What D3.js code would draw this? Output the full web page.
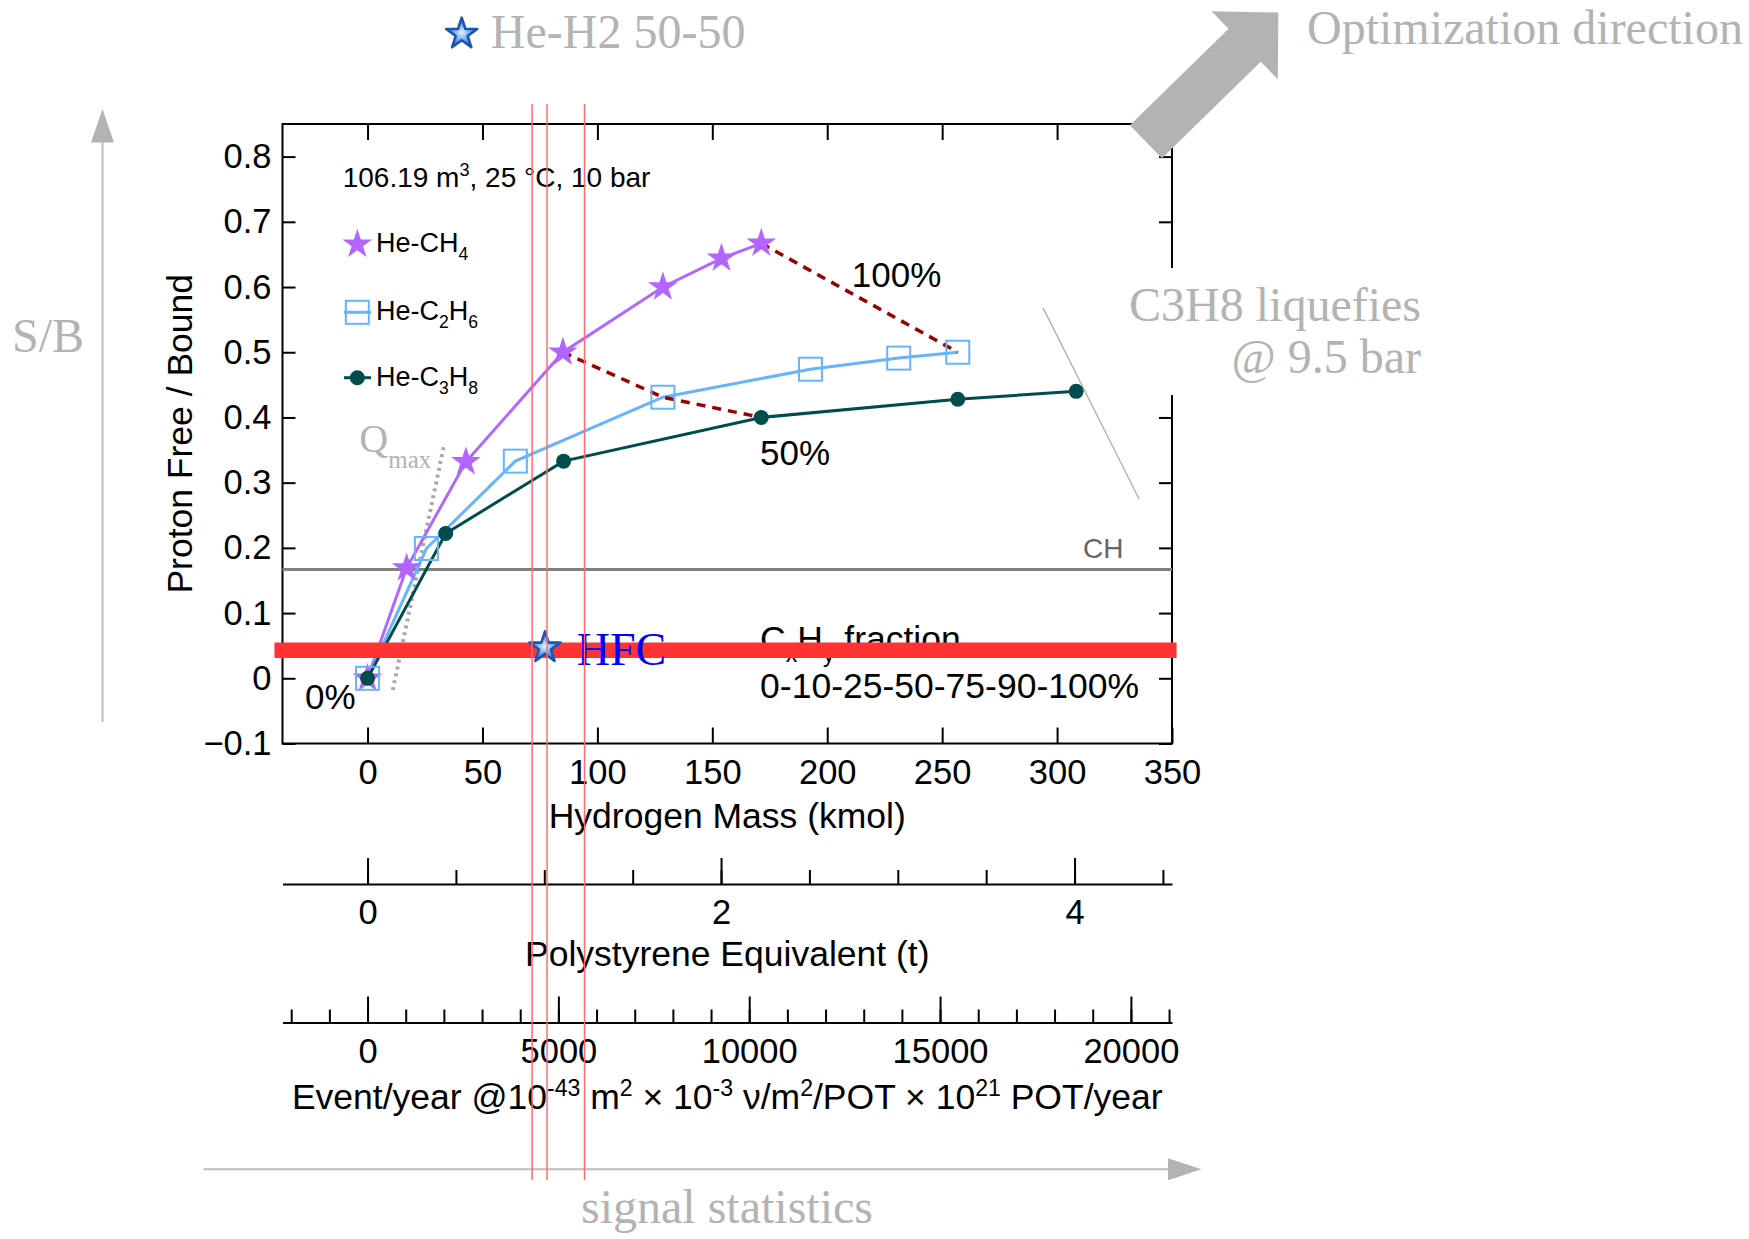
<!DOCTYPE html>
<html>
<head>
<meta charset="utf-8">
<script src="https://cdn.jsdelivr.net/npm/d3@7"></script>
<style>
  body { margin: 0; background: #fff; }
  svg { display: block; }
  text { font-family: "Liberation Sans", Arial, Helvetica, sans-serif; }
  .serif { font-family: "Liberation Serif", "Times New Roman", serif; }
</style>
</head>
<body>
<svg id="chart" width="1749" height="1239"></svg>
<script>
// C_xH_y fraction of each point
const fractions = ["0%", "10%", "25%", "50%", "75%", "90%", "100%"];

// He-CH4
const ch4Mass  = [0, 17.0, 42.8, 85.0, 128.5, 154.0, 171.3];
const ch4Ratio = [0, 0.169, 0.332, 0.500, 0.600, 0.644, 0.667];
// He-C2H6
const c2h6Mass  = [0, 25.6, 64.3, 128.5, 192.7, 231.1, 256.8];
const c2h6Ratio = [0, 0.199, 0.333, 0.431, 0.474, 0.491, 0.500];
// He-C3H8 (no 100% point, it liquefies)
const c3h8Mass  = [0, 34.0, 85.3, 171.3, 256.8, 308.3];
const c3h8Ratio = [0, 0.222, 0.333, 0.400, 0.428, 0.440];

// reference levels
const chRatio = 0.1667;          // CH (plastic scintillator)
const hfcMass = 77.2, hfcRatio = 0.047;
const hfcBandRatio = 0.043, hfcBandMass = [-40.5, 352];
const redLineMass = [71.6, 78.1, 94.4];
const qmaxMass = [11.0, 33.3], qmaxRatio = [-0.018, 0.358];
const liquefyMass = [293.9, 335.7], liquefyRatio = [0.568, 0.275];

// axes
const massTicks = [0, 50, 100, 150, 200, 250, 300, 350];
const ratioTicks = [-0.1, 0, 0.1, 0.2, 0.3, 0.4, 0.5, 0.6, 0.7, 0.8];
const psMajor = [0, 2, 4];
const psMinor = [0, 0.5, 1, 1.5, 2, 2.5, 3, 3.5, 4, 4.5];
const evMajor = [0, 5000, 10000, 15000, 20000];
const evMinor = d3.range(-2000, 21001, 1000);
const kmolPerTon = 76.9;      // H kmol in 1 t polystyrene
const eventsPerKmol = 60.22;  // 6.022e26 * 1e-43 * 1e-3 * 1e21

const purple = "#b366ff", blue = "#66b3ff", teal = "#004d4d", darkRed = "#990000";
const grayTxt = "#b3b3b3";

const svg = d3.select("#chart");
const plot = { left: 282.5, right: 1172, top: 124, bottom: 743.5 };

const x = d3.scaleLinear().domain([-37, 350]).range([plot.left, plot.right]);
const y = d3.scaleLinear().domain([-0.1, 0.85]).range([plot.bottom, plot.top]);
const ps = d3.scaleLinear().domain(x.domain().map(m => m / kmolPerTon)).range(x.range());
const ev = d3.scaleLinear().domain(x.domain().map(m => m * eventsPerKmol)).range(x.range());

// superscript / subscript helper
function rich(sel, parts, size) {
  let cur = 0;
  parts.forEach(([t, k]) => {
    const off = k === "sup" ? -0.38 * size : k === "sub" ? 0.3 * size : 0;
    sel.append("tspan")
      .attr("dy", off - cur)
      .attr("font-size", k ? 0.65 * size : size)
      .text(t);
    cur = off;
  });
}

function styleAxis(g, keepDomain) {
  g.attr("font-family", null).attr("font-size", null);
  if (!keepDomain) g.select(".domain").remove();
  else g.select(".domain").attr("stroke", "#000").attr("stroke-width", 2);
  g.selectAll(".tick line").attr("stroke", "#000").attr("stroke-width", 2);
  g.selectAll(".tick text").attr("font-size", 34.5).attr("fill", "#000");
}

const defs = svg.append("defs");
const grad = defs.append("radialGradient").attr("id", "starGrad");
grad.append("stop").attr("offset", "0%").attr("stop-color", "#e8f3ff");
grad.append("stop").attr("offset", "45%").attr("stop-color", "#7db5f0");
grad.append("stop").attr("offset", "100%").attr("stop-color", "#2a68c8");

// ---- main frame axes
svg.append("g").attr("transform", `translate(0,${plot.bottom})`)
  .call(d3.axisBottom(x).tickValues(massTicks).tickSize(-16).tickPadding(16).tickFormat(d3.format("d")))
  .call(g => styleAxis(g));
svg.append("g").attr("transform", `translate(0,${plot.top})`)
  .call(d3.axisTop(x).tickValues(massTicks).tickSize(-16).tickFormat(""))
  .call(g => styleAxis(g));
svg.append("g").attr("transform", `translate(${plot.left},0)`)
  .call(d3.axisLeft(y).tickValues(ratioTicks).tickSize(-13).tickPadding(11).tickFormat(d3.format(".1~f")))
  .call(g => styleAxis(g));
svg.append("g").attr("transform", `translate(${plot.right},0)`)
  .call(d3.axisRight(y).tickValues(ratioTicks).tickSize(-13).tickFormat(""))
  .call(g => styleAxis(g));

svg.append("rect")
  .attr("x", plot.left).attr("y", plot.top)
  .attr("width", plot.right - plot.left).attr("height", plot.bottom - plot.top)
  .attr("fill", "none").attr("stroke", "#000").attr("stroke-width", 2);

// ---- secondary axes
const psY = 884, evY = 1022.5;
svg.append("g").attr("transform", `translate(0,${psY})`)
  .call(d3.axisBottom(ps).tickValues(psMinor).tickSize(-14).tickSizeOuter(0).tickFormat(""))
  .call(g => styleAxis(g, true));
svg.append("g").attr("transform", `translate(0,${psY})`)
  .call(d3.axisBottom(ps).tickValues(psMajor).tickSize(-26).tickPadding(16).tickFormat(d3.format("d")))
  .call(g => styleAxis(g));
svg.append("g").attr("transform", `translate(0,${evY})`)
  .call(d3.axisBottom(ev).tickValues(evMinor).tickSize(-13).tickSizeOuter(0).tickFormat(""))
  .call(g => styleAxis(g, true));
svg.append("g").attr("transform", `translate(0,${evY})`)
  .call(d3.axisBottom(ev).tickValues(evMajor).tickSize(-26).tickPadding(16).tickFormat(d3.format("d")))
  .call(g => styleAxis(g));

// axis titles
const cx = (plot.left + plot.right) / 2;
svg.append("text").attr("x", cx).attr("y", 828).attr("text-anchor", "middle")
  .attr("font-size", 35.5).text("Hydrogen Mass (kmol)");
svg.append("text").attr("x", cx).attr("y", 966).attr("text-anchor", "middle")
  .attr("font-size", 35.5).text("Polystyrene Equivalent (t)");
svg.append("text").attr("x", cx).attr("y", 1109).attr("text-anchor", "middle")
  .call(t => rich(t, [["Event/year @10"], ["-43", "sup"], [" m"], ["2", "sup"], [" × 10"], ["-3", "sup"],
    [" ν/m"], ["2", "sup"], ["/POT × 10"], ["21", "sup"], [" POT/year"]], 35.5));
svg.append("text").attr("transform", `translate(192,${(plot.top + plot.bottom) / 2}) rotate(-90)`)
  .attr("text-anchor", "middle").attr("font-size", 35.5).text("Proton Free / Bound");

// ---- reference lines
svg.append("line")
  .attr("x1", plot.left).attr("x2", plot.right).attr("y1", y(chRatio)).attr("y2", y(chRatio))
  .attr("stroke", "#808080").attr("stroke-width", 3);
svg.append("text").attr("x", x(311.3)).attr("y", y(0.1845)).attr("font-size", 28)
  .attr("fill", "#666").text("CH");

svg.append("line")
  .attr("x1", x(qmaxMass[0])).attr("y1", y(qmaxRatio[0]))
  .attr("x2", x(qmaxMass[1])).attr("y2", y(qmaxRatio[1]))
  .attr("stroke", "#aaaaaa").attr("stroke-width", 4).attr("stroke-dasharray", "3,4");
svg.append("text").attr("class", "serif").attr("x", x(-3.6)).attr("y", y(0.3475))
  .attr("font-size", 40).attr("fill", grayTxt).text("Q");
svg.append("text").attr("class", "serif").attr("x", x(9.05)).attr("y", y(0.322))
  .attr("font-size", 25).attr("fill", grayTxt).text("max");

svg.append("line")
  .attr("x1", x(liquefyMass[0])).attr("y1", y(liquefyRatio[0]))
  .attr("x2", x(liquefyMass[1])).attr("y2", y(liquefyRatio[1]))
  .attr("stroke", "#aaaaaa").attr("stroke-width", 1.2);

// ---- series
const series = [
  { mass: ch4Mass, ratio: ch4Ratio, color: purple, marker: "star" },
  { mass: c2h6Mass, ratio: c2h6Ratio, color: blue, marker: "square" },
  { mass: c3h8Mass, ratio: c3h8Ratio, color: teal, marker: "circle" }
];
const line = d3.line().x(d => x(d[0])).y(d => y(d[1]));

series.forEach(s => {
  const pts = s.mass.map((m, i) => [m, s.ratio[i]]);
  svg.append("path").attr("d", line(pts)).attr("fill", "none")
    .attr("stroke", s.color).attr("stroke-width", 3);
});

// iso-fraction dashed lines (50% and 100%)
function isoPoints(frac) {
  const i = fractions.indexOf(frac);
  return series.filter(s => s.mass.length > i).map(s => [s.mass[i], s.ratio[i]]);
}
["50%", "100%"].forEach(f => {
  svg.append("path").attr("d", line(isoPoints(f))).attr("fill", "none")
    .attr("stroke", darkRed).attr("stroke-width", 3.5).attr("stroke-dasharray", "9,7");
});

function drawMarker(g, kind, color, px, py) {
  if (kind === "star") {
    g.append("path").attr("transform", `translate(${px},${py})`)
      .attr("d", d3.symbol(d3.symbolStar, 275)()).attr("fill", color);
  } else if (kind === "square") {
    g.append("rect").attr("x", px - 11.5).attr("y", py - 11.5).attr("width", 23).attr("height", 23)
      .attr("fill", "none").attr("stroke", color).attr("stroke-width", 2);
  } else {
    g.append("circle").attr("cx", px).attr("cy", py).attr("r", 7.5).attr("fill", color);
  }
}
const markers = svg.append("g");
series.forEach(s => {
  s.mass.forEach((m, i) => drawMarker(markers, s.marker, s.color, x(m), y(s.ratio[i])));
});

// ---- in-plot texts
svg.append("text").attr("x", x(210.7)).attr("y", y(0.600)).attr("font-size", 35).text("100%");
svg.append("text").attr("x", x(170.8)).attr("y", y(0.327)).attr("font-size", 35).text("50%");
svg.append("text").attr("x", x(-27.2)).attr("y", y(-0.0476)).attr("font-size", 35).text("0%");
svg.append("text").attr("x", x(170.8)).attr("y", y(0.0418))
  .call(t => rich(t, [["C"], ["x", "sub"], ["H"], ["y", "sub"], [" fraction"]], 35.5));
svg.append("text").attr("x", x(170.8)).attr("y", y(-0.0307)).attr("font-size", 35.5)
  .text(fractions.map(f => f.replace("%", "")).join("-") + "%");

svg.append("text").attr("x", 342.7).attr("y", 186.7)
  .call(t => rich(t, [["106.19 m"], ["3", "sup"], [", 25 °C, 10 bar"]], 28));

// legend
const legend = [
  { parts: [["He-CH"], ["4", "sub"]], color: purple, marker: "star" },
  { parts: [["He-C"], ["2", "sub"], ["H"], ["6", "sub"]], color: blue, marker: "square" },
  { parts: [["He-C"], ["3", "sub"], ["H"], ["8", "sub"]], color: teal, marker: "circle" }
];
const legY = [244.3, 312.3, 377.7];
legend.forEach((l, i) => {
  const ly = legY[i];
  if (l.marker !== "star") {
    svg.append("line").attr("x1", 344).attr("x2", 371).attr("y1", ly).attr("y2", ly)
      .attr("stroke", l.color).attr("stroke-width", 3);
  }
  drawMarker(svg, l.marker, l.color, 357.3, ly);
  svg.append("text").attr("x", 376).attr("y", ly + 8).call(t => rich(t, l.parts, 27));
});

// HFC band
svg.append("line")
  .attr("x1", x(hfcBandMass[0])).attr("x2", x(hfcBandMass[1]))
  .attr("y1", y(hfcBandRatio)).attr("y2", y(hfcBandRatio))
  .attr("stroke", "#ff3333").attr("stroke-width", 15.5);

function blueStar(px, py) {
  svg.append("path").attr("transform", `translate(${px},${py})`)
    .attr("d", d3.symbol(d3.symbolStar, 300)())
    .attr("fill", "url(#starGrad)").attr("stroke", "#1a56b0").attr("stroke-width", 2.6)
    .attr("stroke-linejoin", "round");
}
blueStar(x(hfcMass), y(hfcRatio));
svg.append("text").attr("class", "serif").attr("x", x(91.0)).attr("y", y(0.0204))
  .attr("font-size", 46).attr("fill", "#0000ff").text("HFC");

// ---- annotations outside the frame
blueStar(461.7, 34);
svg.append("text").attr("class", "serif").attr("x", 490.8).attr("y", 48.3)
  .attr("font-size", 48).attr("fill", grayTxt).text("He-H2 50-50");

svg.append("rect").attr("x", 1150).attr("y", 268).attr("width", 280).attr("height", 127).attr("fill", "#fff");
svg.append("text").attr("class", "serif").attr("x", 1421).attr("y", 321).attr("text-anchor", "end")
  .attr("font-size", 48).attr("fill", grayTxt).text("C3H8 liquefies");
svg.append("text").attr("class", "serif").attr("x", 1421).attr("y", 373).attr("text-anchor", "end")
  .attr("font-size", 48).attr("fill", grayTxt).text("@ 9.5 bar");

svg.append("text").attr("class", "serif").attr("x", 1307).attr("y", 44)
  .attr("font-size", 48).attr("fill", grayTxt).text("Optimization direction");

// big optimization arrow
(function () {
  const tail = [1145.9, 141.7], tip = [1278.3, 12.5];
  const len = Math.hypot(tip[0] - tail[0], tip[1] - tail[1]);
  const u = [(tip[0] - tail[0]) / len, (tip[1] - tail[1]) / len];
  const n = [-u[1], u[0]];
  const hw = 23, headW = 47.5, headL = 47;
  const b = [tip[0] - u[0] * headL, tip[1] - u[1] * headL];
  const p = (c, k) => [c[0] + n[0] * k, c[1] + n[1] * k];
  const pts = [p(tail, hw), p(b, hw), p(b, headW), tip, p(b, -headW), p(b, -hw), p(tail, -hw)];
  svg.append("polygon").attr("points", pts.map(q => q.join(",")).join(" ")).attr("fill", "#b3b3b3");
})();

// S/B arrow
svg.append("line").attr("x1", 102.5).attr("x2", 102.5).attr("y1", 722).attr("y2", 138)
  .attr("stroke", "#bdbdbd").attr("stroke-width", 2);
svg.append("polygon").attr("points", "102.5,109 91,142.5 114,142.5").attr("fill", "#b3b3b3");
svg.append("text").attr("class", "serif").attr("x", 12).attr("y", 352)
  .attr("font-size", 48).attr("fill", grayTxt).text("S/B");

// signal statistics arrow
svg.append("line").attr("x1", 203.4).attr("x2", 1172).attr("y1", 1169.3).attr("y2", 1169.3)
  .attr("stroke", "#bdbdbd").attr("stroke-width", 2);
svg.append("polygon").attr("points", "1201.4,1169.3 1168,1158.3 1168,1180.3").attr("fill", "#b3b3b3");
svg.append("text").attr("class", "serif").attr("x", 727).attr("y", 1223).attr("text-anchor", "middle")
  .attr("font-size", 48).attr("fill", grayTxt).text("signal statistics");

// red vertical markers
redLineMass.forEach(m => {
  svg.append("line").attr("x1", x(m)).attr("x2", x(m)).attr("y1", 104).attr("y2", 1180)
    .attr("stroke", "#ff6b6b").attr("stroke-width", 1.5);
});
</script>
</body>
</html>
